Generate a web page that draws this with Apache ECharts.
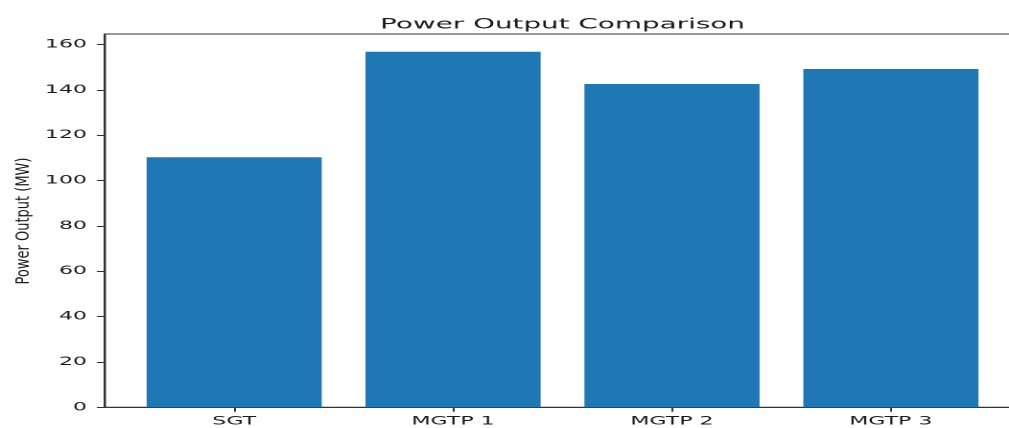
<!DOCTYPE html>
<html>
<head>
<meta charset="utf-8">
<script src="https://cdn.jsdelivr.net/npm/echarts@6.0.0/dist/echarts.min.js"></script>
<style>
  html, body { margin: 0; padding: 0; background: #fff; overflow: hidden; }
  /* the reference is stretched sideways, so draw narrow and widen it */
  #chart { width: 526px; height: 428px; transform: scaleX(1.9183); transform-origin: 0 0; }
</style>
</head>
<body>
<div id="chart"></div>
<script>
const categories = ['SGT', 'MGTP 1', 'MGTP 2', 'MGTP 3'];
const powerOutput = [110.3, 156.8, 142.6, 149.2];
const yTicks = [0, 20, 40, 60, 80, 100, 120, 140, 160];

const stretch = 1009 / 526;
const gridLeft = 105 / stretch;
const gridWidth = 915 / stretch;
const barFrac = 0.8;
// matplotlib style margins: 5% each side
const span = categories.length - 1 + barFrac;
const xMin = -barFrac / 2 - 0.05 * span;
const xMax = categories.length - 1 + barFrac / 2 + 0.05 * span;
const yMax = Math.max(...powerOutput) * 1.05;
const xIdx = categories.map((c, i) => i);

const font = 'DejaVu Sans';
const ink = '#1a1a1a';

let chart = echarts.init(document.getElementById('chart'), null, { devicePixelRatio: 2 });
chart.setOption({
    animation: false,
    backgroundColor: '#fff',
    title: {
        text: 'Power Output Comparison',
        left: gridLeft + gridWidth / 2 - 5,
        textAlign: 'center',
        top: 12,
        textStyle: { fontFamily: font, fontSize: 14.5, fontWeight: 'normal', color: ink }
    },
    grid: {
        left: gridLeft,
        top: 34,
        width: gridWidth,
        bottom: 20.7,
        containLabel: false,
        outerBoundsMode: 'none',
        show: true,
        borderColor: '#333',
        borderWidth: 1
    },
    xAxis: {
        type: 'value',
        min: xMin,
        max: xMax,
        splitLine: { show: false },
        axisLine: { show: true, onZero: false, lineStyle: { color: '#333', width: 1 } },
        axisTick: { show: true, customValues: xIdx, length: 4.5, lineStyle: { color: '#333' } },
        axisLabel: {
            customValues: xIdx,
            formatter: v => categories[v],
            margin: 8,
            fontFamily: font,
            fontSize: 11.5,
            color: ink
        }
    },
    yAxis: {
        type: 'value',
        min: 0,
        max: yMax,
        splitLine: { show: false },
        axisLine: { show: true, onZero: false, lineStyle: { color: '#333', width: 1 } },
        axisTick: { show: true, customValues: yTicks, length: 4.2, lineStyle: { color: '#333' } },
        axisLabel: {
            customValues: yTicks,
            margin: 9.4,
            fontFamily: font,
            fontSize: 11.5,
            color: ink
        }
    },
    graphic: [{
        type: 'text',
        x: 24 / stretch,
        y: 221,
        rotation: Math.PI / 2,
        scaleY: 0.75,
        style: {
            text: 'Power Output (MW)',
            fontFamily: font,
            fontSize: 13,
            fill: ink,
            align: 'center',
            verticalAlign: 'middle',
            textAlign: 'center',
            textVerticalAlign: 'middle'
        }
    }],
    series: [{
        type: 'bar',
        data: xIdx.map(i => [i, powerOutput[i]]),
        barWidth: gridWidth * barFrac / (xMax - xMin),
        itemStyle: { color: '#1f77b4' }
    }]
});
</script>
</body>
</html>
